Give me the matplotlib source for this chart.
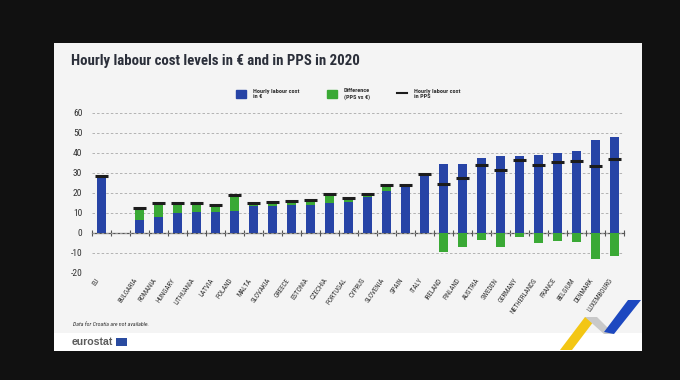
import numpy as np
import matplotlib
matplotlib.use("Agg")
import matplotlib.pyplot as plt
from matplotlib import font_manager
from matplotlib.patches import Rectangle, Polygon, Patch
from matplotlib.lines import Line2D

plt.rcParams["axes.unicode_minus"] = False

# hourly labour cost 2020
countries = ["EU", "BULGARIA", "ROMANIA", "HUNGARY", "LITHUANIA", "LATVIA", "POLAND",
             "MALTA", "SLOVAKIA", "GREECE", "ESTONIA", "CZECHIA", "PORTUGAL", "CYPRUS",
             "SLOVENIA", "SPAIN", "ITALY", "IRELAND", "FINLAND", "AUSTRIA", "SWEDEN",
             "GERMANY", "NETHERLANDS", "FRANCE", "BELGIUM", "DENMARK", "LUXEMBOURG"]
cost_eur = [28.5, 6.5, 8.1, 9.9, 10.3, 10.6, 11.1, 13.4, 13.6, 13.8, 14.0, 14.8, 15.3,
            17.8, 21.0, 23.6, 29.8, 34.4, 34.6, 37.5, 38.5, 38.5, 38.9, 39.8, 40.9,
            46.3, 48.2]
cost_pps = [28.5, 12.3, 15.1, 15.1, 15.0, 14.0, 18.8, 14.8, 15.6, 16.0, 16.6, 19.5, 17.3,
            19.3, 24.0, 24.0, 29.6, 24.7, 27.4, 33.8, 31.3, 36.7, 33.8, 35.7, 36.2,
            33.3, 36.9]
diff = np.subtract(cost_pps, cost_eur)

title = "Hourly labour cost levels in \u20ac and in PPS in 2020"
legend_labels = ["Hourly labour cost\nin \u20ac", "Difference\n(PPS vs \u20ac)",
                 "Hourly labour cost\nin PPS"]
note = "Data for Croatia are not available."

BLUE = "#2744a6"
GREEN = "#3aa935"
DARK = "#1c1c1c"


def pick(cands):
    names = {f.name for f in font_manager.fontManager.ttflist}
    for c in cands:
        if c in names:
            return c
    return "DejaVu Sans"


narrow = pick(["Liberation Sans Narrow", "Roboto Condensed", "Open Sans Condensed",
               "Noto Sans Condensed", "Liberation Sans"])
plain = pick(["Liberation Sans", "DejaVu Sans"])

W, H = 680, 380


def px(x, y):
    return (x / W, 1 - y / H)


fig = plt.figure(figsize=(6.8, 3.8), dpi=100, facecolor="#111111")

# panel + white footer (behind the axes)
fig.patches.append(Rectangle(px(54, 351), 588 / W, 308 / H, transform=fig.transFigure,
                             facecolor="#f4f4f4", edgecolor="none", zorder=-2))
fig.patches.append(Rectangle(px(54, 351), 588 / W, 18 / H, transform=fig.transFigure,
                             facecolor="white", edgecolor="none", zorder=-1))

ax = fig.add_axes([92 / W, 1 - 273 / H, 532 / W, 160 / H])
ax.patch.set_visible(False)

pos = np.r_[0, np.arange(2, len(countries) + 1)]

ax.bar(pos, cost_eur, width=0.52, color=BLUE, zorder=3)
ax.bar(pos, diff, bottom=np.where(diff > 0, cost_eur, 0), width=0.52, color=GREEN, zorder=3)
ax.hlines(cost_pps, pos - 0.33, pos + 0.33, color=DARK, lw=2.2, zorder=4)

ax.set_xlim(-0.5, len(countries) + 0.5)
ax.set_ylim(-20, 60)
ax.set_yticks(range(-20, 61, 10))
ax.yaxis.grid(True, ls=(0, (3, 2.5)), color="#a8a8a8", lw=0.6, zorder=0)
ax.tick_params(axis="y", length=0, pad=7, labelsize=6.8, labelcolor="#333333")
for lab in ax.get_yticklabels():
    lab.set_family(narrow)
for s in ax.spines.values():
    s.set_visible(False)

ax.set_xticks(pos)
ax.set_xticklabels(countries, rotation=55, ha="right", va="top", fontsize=5,
                   color="#333333", family=narrow)
ax.tick_params(axis="x", length=0, pad=3)

# zero line with slot ticks
sec = ax.secondary_xaxis(0.25)
sec.set_xticks(np.arange(-0.5, len(countries) + 1, 1))
sec.set_xticklabels([])
sec.tick_params(direction="inout", length=4, width=0.8, color="#555555")
sec.spines["bottom"].set_color("#555555")
sec.spines["bottom"].set_linewidth(0.9)

# title, legend, notes
fig.text(*px(71, 61.5), title, fontsize=10.7, weight="bold", color="#2b2f3a",
         va="center", family=narrow)

handles = [Patch(color=BLUE), Patch(color=GREEN), Line2D([], [], color=DARK, lw=1.5)]
fig.legend(handles, legend_labels, ncol=3, loc="center left", bbox_to_anchor=px(230, 94),
           frameon=False, prop={"family": narrow, "size": 4.5, "weight": "bold"},
           handlelength=1.6, handleheight=1.5, handletextpad=1.2, columnspacing=4.3,
           labelcolor="#333333")

fig.text(*px(73, 325), note, fontsize=4.2, style="italic", color="#333333",
         va="center", family=narrow)
fig.text(*px(72, 342), "eurostat", fontsize=7.6, weight="bold", color="#5b5b5b",
         va="center", family=plain)
fig.patches.append(Rectangle(px(116, 346), 11 / W, 8 / H, transform=fig.transFigure,
                             facecolor="#2a4ba0", edgecolor="none"))

# corner decoration
fig.patches.append(Polygon([px(560, 350), px(572, 350), px(597, 317), px(585, 317)],
                           closed=True, transform=fig.transFigure, facecolor="#f3c614",
                           edgecolor="none"))
fig.patches.append(Polygon([px(585, 317), px(597, 317), px(614, 334), px(604, 334)],
                           closed=True, transform=fig.transFigure, facecolor="#c9c9c9",
                           edgecolor="none"))
fig.patches.append(Polygon([px(604, 332), px(614, 334), px(641, 300), px(628, 300)],
                           closed=True, transform=fig.transFigure, facecolor="#1d48c0",
                           edgecolor="none"))

fig.savefig("out.png", dpi=100, facecolor=fig.get_facecolor())
